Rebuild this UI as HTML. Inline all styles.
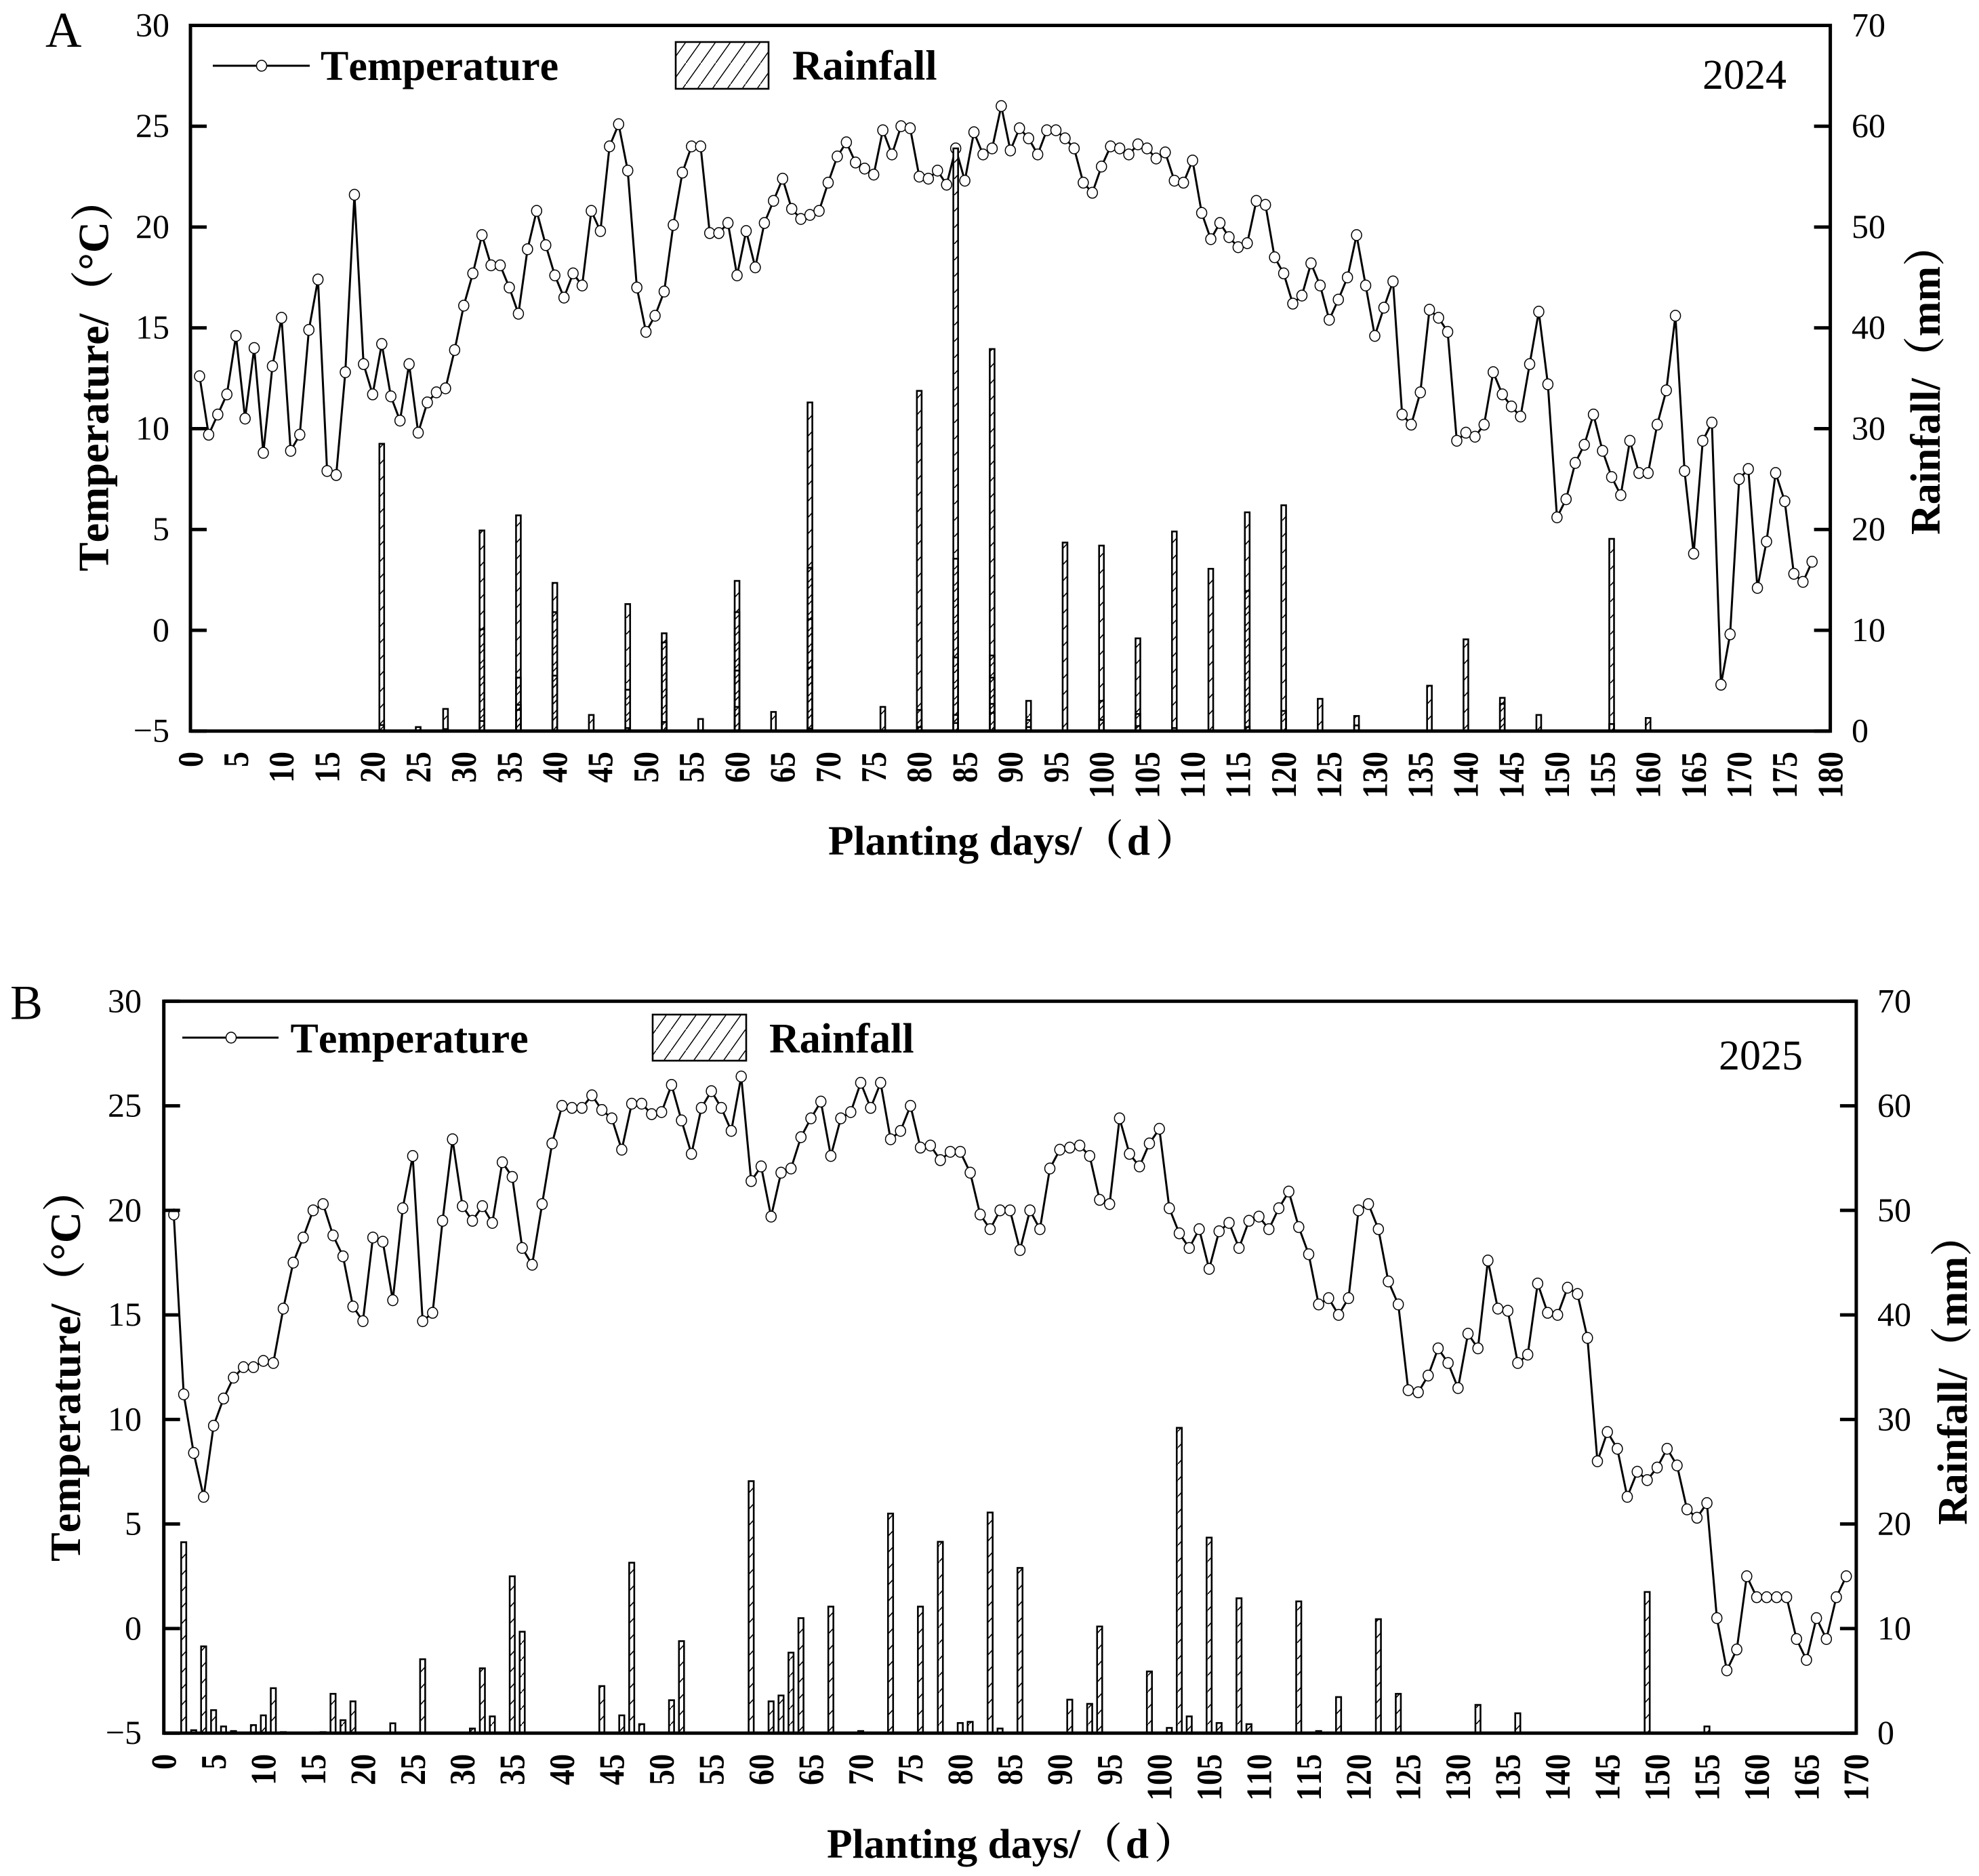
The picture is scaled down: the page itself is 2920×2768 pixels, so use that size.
<!DOCTYPE html>
<html lang="en">
<head>
<meta charset="utf-8">
<title>Temperature and rainfall over planting days, 2024 and 2025</title>
<style>
html,body{margin:0;padding:0;background:#fff;}
svg{display:block;}
text{font-family:"Liberation Serif","Noto Serif CJK SC",serif;fill:#000;font-kerning:none;}
.b{font-weight:bold;}
</style>
</head>
<body>
<svg id="chart" xmlns="http://www.w3.org/2000/svg" width="2920" height="2768" viewBox="0 0 2920 2768">
<defs>
<pattern id="hatch" patternUnits="userSpaceOnUse" width="22" height="24">
<rect width="22" height="24" fill="#fff"/>
<line x1="-1" y1="25" x2="23" y2="-1" stroke="#000" stroke-width="1.6"/>
</pattern>
<pattern id="hatch-over" patternUnits="userSpaceOnUse" width="22" height="24" patternTransform="translate(0 9)">
<line x1="-1" y1="25" x2="23" y2="-1" stroke="#000" stroke-width="1.6"/>
</pattern>
<pattern id="hatch-legend" patternUnits="userSpaceOnUse" width="22" height="31">
<rect width="22" height="31" fill="#fff"/>
<line x1="-1" y1="32.4" x2="23" y2="-1.4" stroke="#000" stroke-width="1.5"/>
</pattern>
</defs>
<rect width="2920" height="2768" fill="#fff"/>

<g id="panel-a">
<text x="67" y="69" font-size="74">A</text>
<text transform="translate(159.5 843) rotate(-90)" font-size="64" class="b">Temperature/（°C）</text>
<text transform="translate(2862 789) rotate(-90)" font-size="62" class="b">Rainfall/（mm）</text>
<text x="1222" y="1261" font-size="61.5" class="b">Planting days/（<tspan dx="5">d</tspan><tspan dx="8">）</tspan></text>
<text x="2512" y="131" font-size="62">2024</text>
<g>
<line x1="314" y1="97" x2="457" y2="97" stroke="#000" stroke-width="3"/>
<ellipse cx="386" cy="97" rx="7.5" ry="8" fill="#fff" stroke="#000" stroke-width="1.5"/>
<text x="473" y="118" font-size="62" class="b">Temperature</text>
<rect x="997" y="62" width="137" height="69" fill="url(#hatch-legend)" stroke="#000" stroke-width="2.6"/>
<text x="1169" y="117.5" font-size="62" class="b">Rainfall</text>
</g>
</g>

<g id="panel-b">
<text x="15" y="1503.5" font-size="72">B</text>
<text transform="translate(118 2304) rotate(-90)" font-size="64" class="b">Temperature/（°C）</text>
<text transform="translate(2902 2250) rotate(-90)" font-size="62" class="b">Rainfall/（mm）</text>
<text x="1220" y="2741" font-size="61.5" class="b">Planting days/（<tspan dx="5">d</tspan><tspan dx="8">）</tspan></text>
<text x="2536" y="1578" font-size="62">2025</text>
<g>
<line x1="269" y1="1531" x2="411" y2="1531" stroke="#000" stroke-width="3"/>
<ellipse cx="341" cy="1531" rx="7.5" ry="8" fill="#fff" stroke="#000" stroke-width="1.5"/>
<text x="428.5" y="1553" font-size="62" class="b">Temperature</text>
<rect x="963" y="1497" width="138" height="68" fill="url(#hatch-legend)" stroke="#000" stroke-width="2.6"/>
<text x="1135" y="1553" font-size="62" class="b">Rainfall</text>
</g>
</g>
</svg>

<script>
const tempTicks = [-5, 0, 5, 10, 15, 20, 25, 30];
const tempTickLabels = ['−5', '0', '5', '10', '15', '20', '25', '30'];
const rainTicks = [0, 10, 20, 30, 40, 50, 60, 70];
const rainTickLabels = ['0', '10', '20', '30', '40', '50', '60', '70'];
const xTicksA = [0, 5, 10, 15, 20, 25, 30, 35, 40, 45, 50, 55, 60, 65, 70, 75, 80, 85, 90, 95, 100, 105, 110, 115, 120, 125, 130, 135, 140, 145, 150, 155, 160, 165, 170, 175, 180];
const xTicksB = [0, 5, 10, 15, 20, 25, 30, 35, 40, 45, 50, 55, 60, 65, 70, 75, 80, 85, 90, 95, 100, 105, 110, 115, 120, 125, 130, 135, 140, 145, 150, 155, 160, 165, 170];

// Daily mean temperature, first value is planting day 1
const tempA = [12.6, 9.7, 10.7, 11.7, 14.6, 10.5, 14.0, 8.8, 13.1, 15.5, 8.9, 9.7, 14.9, 17.4, 7.9, 7.7, 12.8, 21.6, 13.2, 11.7,
  14.2, 11.6, 10.4, 13.2, 9.8, 11.3, 11.8, 12.0, 13.9, 16.1, 17.7, 19.6, 18.1, 18.1, 17.0, 15.7, 18.9, 20.8, 19.1, 17.6,
  16.5, 17.7, 17.1, 20.8, 19.8, 24.0, 25.1, 22.8, 17.0, 14.8, 15.6, 16.8, 20.1, 22.7, 24.0, 24.0, 19.7, 19.7, 20.2, 17.6,
  19.8, 18.0, 20.2, 21.3, 22.4, 20.9, 20.4, 20.6, 20.8, 22.2, 23.5, 24.2, 23.2, 22.9, 22.6, 24.8, 23.6, 25.0, 24.9, 22.5,
  22.4, 22.8, 22.1, 23.9, 22.3, 24.7, 23.6, 23.9, 26.0, 23.8, 24.9, 24.4, 23.6, 24.8, 24.8, 24.4, 23.9, 22.2, 21.7, 23.0,
  24.0, 23.9, 23.6, 24.1, 23.9, 23.4, 23.7, 22.3, 22.2, 23.3, 20.7, 19.4, 20.2, 19.5, 19.0, 19.2, 21.3, 21.1, 18.5, 17.7,
  16.2, 16.6, 18.2, 17.1, 15.4, 16.4, 17.5, 19.6, 17.1, 14.6, 16.0, 17.3, 10.7, 10.2, 11.8, 15.9, 15.5, 14.8, 9.4, 9.8,
  9.6, 10.2, 12.8, 11.7, 11.1, 10.6, 13.2, 15.8, 12.2, 5.6, 6.5, 8.3, 9.2, 10.7, 8.9, 7.6, 6.7, 9.4, 7.8, 7.8,
  10.2, 11.9, 15.6, 7.9, 3.8, 9.4, 10.3, -2.7, -0.2, 7.5, 8.0, 2.1, 4.4, 7.8, 6.4, 2.8, 2.4, 3.4];

const tempB = [19.8, 11.2, 8.4, 6.3, 9.7, 11.0, 12.0, 12.5, 12.5, 12.8, 12.7, 15.3, 17.5, 18.7, 20.0, 20.3, 18.8, 17.8, 15.4, 14.7,
  18.7, 18.5, 15.7, 20.1, 22.6, 14.7, 15.1, 19.5, 23.4, 20.2, 19.5, 20.2, 19.4, 22.3, 21.6, 18.2, 17.4, 20.3, 23.2, 25.0,
  24.9, 24.9, 25.5, 24.8, 24.4, 22.9, 25.1, 25.1, 24.6, 24.7, 26.0, 24.3, 22.7, 24.9, 25.7, 24.9, 23.8, 26.4, 21.4, 22.1,
  19.7, 21.8, 22.0, 23.5, 24.4, 25.2, 22.6, 24.4, 24.7, 26.1, 24.9, 26.1, 23.4, 23.8, 25.0, 23.0, 23.1, 22.4, 22.8, 22.8,
  21.8, 19.8, 19.1, 20.0, 20.0, 18.1, 20.0, 19.1, 22.0, 22.9, 23.0, 23.1, 22.6, 20.5, 20.3, 24.4, 22.7, 22.1, 23.2, 23.9,
  20.1, 18.9, 18.2, 19.1, 17.2, 19.0, 19.4, 18.2, 19.5, 19.7, 19.1, 20.1, 20.9, 19.2, 17.9, 15.5, 15.8, 15.0, 15.8, 20.0,
  20.3, 19.1, 16.6, 15.5, 11.4, 11.3, 12.1, 13.4, 12.7, 11.5, 14.1, 13.4, 17.6, 15.3, 15.2, 12.7, 13.1, 16.5, 15.1, 15.0,
  16.3, 16.0, 13.9, 8.0, 9.4, 8.6, 6.3, 7.5, 7.1, 7.7, 8.6, 7.8, 5.7, 5.3, 6.0, 0.5, -2.0, -1.0, 2.5, 1.5,
  1.5, 1.5, 1.5, -0.5, -1.5, 0.5, -0.5, 1.5, 2.5];

// Rainfall events. A repeated day is a smaller bar overprinted on the same day.
const rainDaysA = [21, 21, 25, 28, 28, 32, 32, 32, 36, 36, 36, 36, 40, 40, 40, 44, 48, 48, 48, 52, 52, 52, 56, 60, 60, 60, 60, 64,
  68, 68, 68, 68, 68, 76, 80, 80, 80, 84, 84, 84, 84, 84, 88, 88, 88, 88, 88, 92, 92, 92, 96, 100, 100, 100, 104, 104, 104,
  108, 108, 112, 116, 116, 116, 120, 120, 124, 128, 128, 136, 140, 144, 144, 148, 156, 156, 160];
const rainValuesA = [28.5, 0.6, 0.4, 2.2, 0.2, 19.9, 10.1, 1.0, 21.4, 5.3, 2.6, 2.1, 14.7, 11.8, 5.5, 1.6, 12.6, 4.1, 0.3, 9.7, 8.8, 0.9, 1.2, 14.9, 11.8, 6.0, 2.4, 1.9,
  32.6, 16.2, 11.1, 6.3, 0.25, 2.4, 33.75, 2.1, 0.4, 57.8, 17.1, 7.3, 1.6, 0.8, 37.9, 7.5, 5.3, 2.7, 1.8, 3.0, 1.1, 0.4, 18.7, 18.4, 3.0, 1.1, 9.2, 1.7, 0.5,
  19.8, 0.3, 16.1, 21.7, 13.9, 0.4, 22.4, 2.0, 3.2, 1.5, 0.56, 4.5, 9.1, 3.3, 2.7, 1.6, 19.07, 0.7, 1.3];

const rainDaysB = [2, 3, 4, 5, 6, 7, 9, 10, 11, 12, 16, 17, 18, 19, 23, 26, 29, 31, 32, 33, 35, 36, 44, 46, 47, 48, 51, 52, 59, 61, 62, 63, 64, 67,
  70, 71, 73, 74, 76, 78, 80, 81, 82, 83, 84, 86, 91, 93, 94, 99, 101, 102, 103, 105, 106, 108, 109, 114, 116, 118, 122, 124, 132, 133, 136, 149, 155];
const rainValuesB = [18.26, 0.28, 8.3, 2.2, 0.64, 0.2, 0.77, 1.7, 4.3, 0.1, 0.1, 3.76, 1.24, 3.04, 0.94, 7.07, 0.05, 0.44, 6.2, 1.6, 15.0, 9.7, 4.5, 1.7, 16.3, 0.86, 3.15, 8.8, 24.1, 3.04, 3.6, 7.7, 11.0, 12.1,
  0.2, 0.05, 21.0, 0.05, 12.1, 18.3, 0.97, 1.08, 0.05, 21.1, 0.44, 15.8, 3.2, 2.8, 10.2, 5.9, 0.5, 29.2, 1.6, 18.7, 0.97, 12.9, 0.86, 12.6, 0.2, 3.45, 10.9, 3.76, 2.7, 0.05, 1.9, 13.5, 0.64];

const SVG_NS = 'http://www.w3.org/2000/svg';

function makeEl(parent, tag, attrs) {
  const el = document.createElementNS(SVG_NS, tag);
  for (const k in attrs) el.setAttribute(k, attrs[k]);
  parent.appendChild(el);
  return el;
}

function drawPanel(root, frame, temp, rainDays, rainValues, xTicks) {
  const xScale = d => frame.left + (d - xTicks[0]) / (xTicks[xTicks.length - 1] - xTicks[0]) * (frame.right - frame.left);
  const tempScale = v => frame.bottom - (v - tempTicks[0]) / (tempTicks[tempTicks.length - 1] - tempTicks[0]) * (frame.bottom - frame.top);
  const rainScale = v => frame.bottom - (v - rainTicks[0]) / (rainTicks[rainTicks.length - 1] - rainTicks[0]) * (frame.bottom - frame.top);

  // temperature line
  const points = temp.map((v, i) => xScale(i + 1).toFixed(2) + ',' + tempScale(v).toFixed(2)).join(' ');
  const line = makeEl(root, 'polyline', { points: points, fill: 'none', stroke: '#000', 'stroke-width': 3 });
  
  

  // temperature markers
  temp.forEach((v, i) => {
    const dot = makeEl(root, 'ellipse', { cx: xScale(i + 1), cy: tempScale(v), rx: 7.5, ry: 8, fill: '#fff', stroke: '#000', 'stroke-width': 1.5 });
    
    
  });

  // rainfall bars
  const seen = new Set();
  rainDays.forEach((d, i) => {
    const yTop = rainScale(rainValues[i]);
    const over = seen.has(d);
    seen.add(d);
    const bar = makeEl(root, 'rect', {
      x: xScale(d) - frame.barWidth / 2,
      y: yTop,
      width: frame.barWidth,
      height: Math.max(frame.bottom - yTop, 0),
      fill: over ? 'url(#hatch-over)' : 'url(#hatch)',
      stroke: '#000',
      'stroke-width': 2.6
    });
    
    
  });

  // plot frame
  const box = makeEl(root, 'rect', { x: frame.left, y: frame.top, width: frame.right - frame.left, height: frame.bottom - frame.top, fill: 'none', stroke: '#000', 'stroke-width': 5 });
  
  

  // left axis
  tempTicks.forEach((v, i) => {
    const y = tempScale(v);
    const tick = makeEl(root, 'line', { x1: frame.left, y1: y, x2: frame.left + 24, y2: y, stroke: '#000', 'stroke-width': 5 });
    
    
    const label = makeEl(root, 'text', { x: frame.leftLabelX, y: y + 16, 'font-size': 50, 'text-anchor': 'end' });
    
    
    label.textContent = tempTickLabels[i];
  });

  // right axis
  rainTicks.forEach((v, i) => {
    const y = rainScale(v);
    const tick = makeEl(root, 'line', { x1: frame.right - 24, y1: y, x2: frame.right, y2: y, stroke: '#000', 'stroke-width': 5 });
    
    
    const label = makeEl(root, 'text', { x: frame.rightLabelX, y: y + 16, 'font-size': 50 });
    
    
    label.textContent = rainTickLabels[i];
  });

  // x axis labels
  xTicks.forEach(d => {
    const label = makeEl(root, 'text', {
      transform: 'translate(' + xScale(d) + ' ' + frame.xLabelTop + ') rotate(-90) scale(1 1.15)',
      y: 15.5,
      'font-size': 46,
      'font-weight': 'bold',
      'text-anchor': 'end'
    });
    
    
    label.textContent = String(d);
  });
}

drawPanel(document.getElementById('panel-a'),
  { left: 281, right: 2700.6, top: 37.5, bottom: 1078.7, barWidth: 7, leftLabelX: 250, rightLabelX: 2732, xLabelTop: 1109 },
  tempA, rainDaysA, rainValuesA, xTicksA);

drawPanel(document.getElementById('panel-b'),
  { left: 241.7, right: 2738.9, top: 1477.3, bottom: 2557.2, barWidth: 7.5, leftLabelX: 209, rightLabelX: 2770, xLabelTop: 2588 },
  tempB, rainDaysB, rainValuesB, xTicksB);
</script>
</body>
</html>
